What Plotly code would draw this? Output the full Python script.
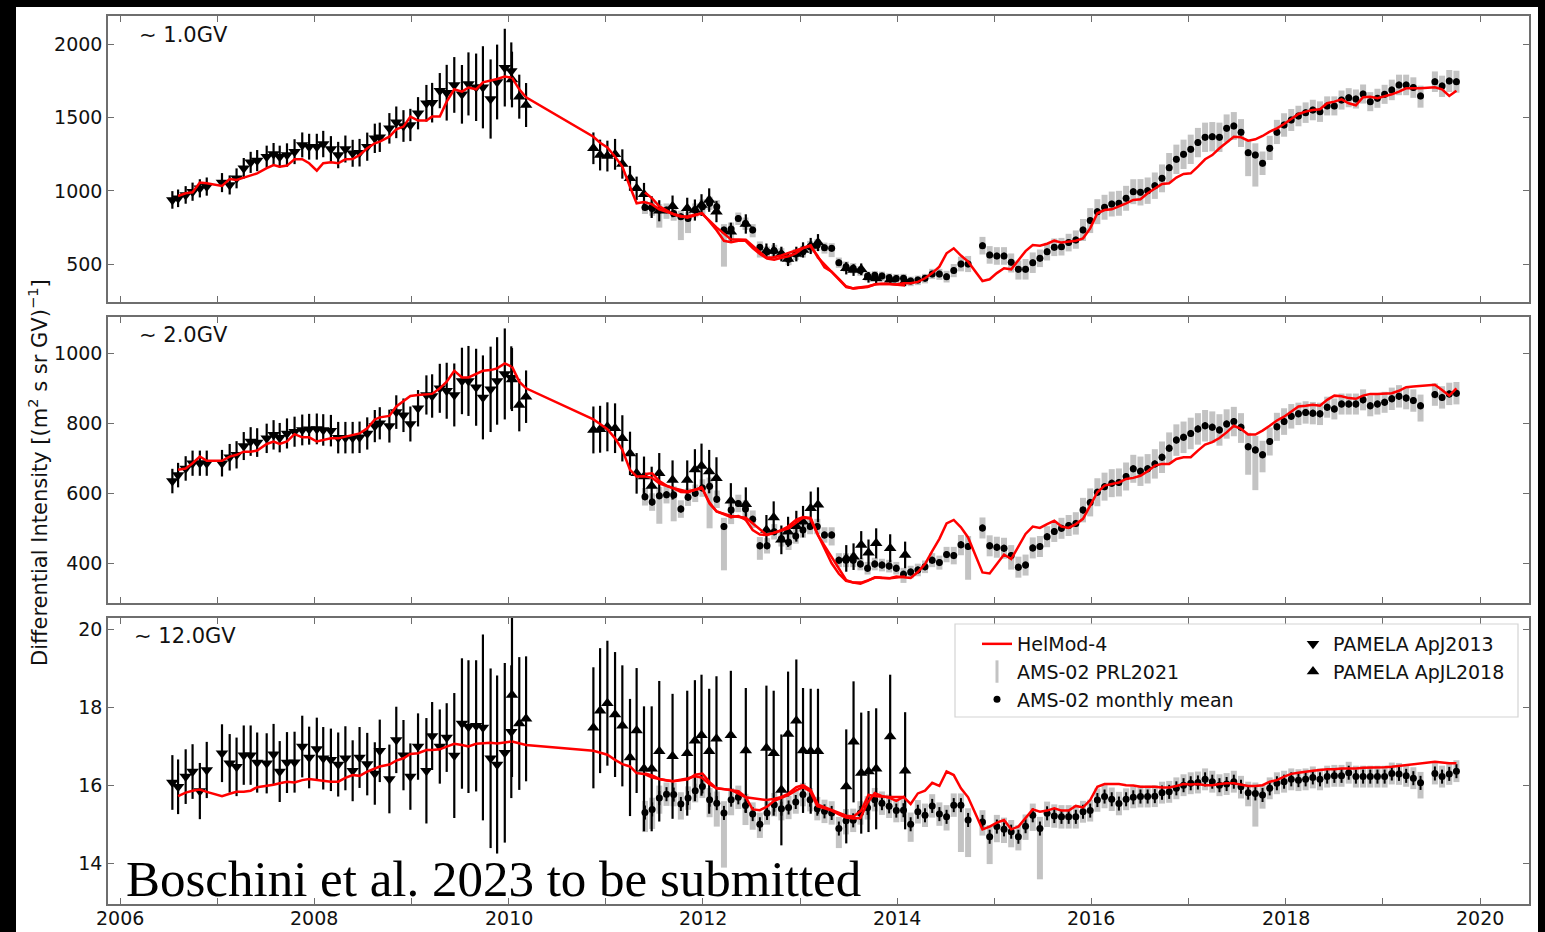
import pandas as pd
import plotly.graph_objects as go
from plotly.subplots import make_subplots

NaN = float('nan')

# ---------------- time grids ----------------
# PAMELA ApJ2013 (Carrington rotations), decimal year
pam13_t = [2006.539, 2006.598, 2006.676, 2006.747, 2006.822, 2006.893, 2007.050, 2007.129, 2007.200, 2007.274,
           2007.345, 2007.412, 2007.510, 2007.581, 2007.644, 2007.719, 2007.797, 2007.876, 2007.947, 2008.026,
           2008.092, 2008.171, 2008.246, 2008.320, 2008.395, 2008.466, 2008.545, 2008.623, 2008.674, 2008.773,
           2008.844, 2008.918, 2008.989, 2009.068, 2009.154, 2009.213, 2009.292, 2009.363, 2009.441, 2009.520,
           2009.587, 2009.666, 2009.736, 2009.815, 2009.882, 2009.961, 2010.028]
# PAMELA ApJL2018 (Carrington rotations), decimal year
pam18_t = [2010.035, 2010.110, 2010.180, 2010.873, 2010.942, 2011.017, 2011.096, 2011.171, 2011.250, 2011.318,
           2011.394, 2011.473, 2011.551, 2011.688, 2011.839, 2011.918, 2011.986, 2012.065, 2012.140, 2012.288,
           2012.442, 2012.654, 2012.729, 2012.808, 2012.877, 2012.962, 2013.031, 2013.110, 2013.185, 2013.476,
           2013.551, 2013.630, 2013.705, 2013.784, 2013.928, 2014.082]
# AMS-02 monthly means: Bartels rotations 2426 ... 2539 (BR 2426 starts 2011-05-15, 27 days each)
ams_bartels = list(range(2426, 2540))
_br0 = pd.Timestamp('2011-05-15')
_y0 = pd.Timestamp('2011-01-01')
ams_t = [2011.0 + ((_br0 + pd.Timedelta(days=27 * (b - 2426) + 13.5)) - _y0).total_seconds() / 86400 / 365.25
         for b in ams_bartels]

# ---------------- ~1.0 GV ----------------
pam13_p1 = [939, 950, 973, 995, 1018, 1030, 1057, 1041, 1086, 1155, 1195, 1207, 1234, 1252, 1234, 1245, 1268, 1314,
            1302, 1302, 1320, 1286, 1245, 1286, 1257, 1261, 1302, 1359, 1366, 1427, 1468, 1443, 1450, 1530, 1598,
            1602, 1684, 1670, 1723, 1659, 1730, 1707, 1707, 1627, 1743, 1841, 1818]
pam13_e1 = [60, 60, 60, 62, 62, 62, 65, 65, 68, 70, 72, 72, 75, 75, 75, 80, 85, 85, 88, 88, 90, 88, 90, 92,
            92, 94, 96, 100, 100, 104, 108, 108, 110, 110, 125, 135, 120, 190, 190, 200, 215, 230, 280, 270, 255,
            265, 195]
pam18_p1 = [1760, 1643, 1586, 1291, 1245, 1238, 1250, 1184, 1086, 1018, 977, 890, 865, 895, 882, 870, 904, 938,
            859, 722, 775, 590, 593, 570, 536, 570, 598, 625, 648, 473, 461, 466, 411, 404, 395, 385]
pam18_e1 = [190, 150, 150, 108, 105, 105, 105, 100, 85, 80, 78, 74, 72, 74, 72, 72, 74, 80, 72, 62, 66, 52, 52,
            50, 48, 50, 52, 55, 58, 42, 40, 40, 36, 35, 35, 34]
ams_p1 = [888, 881, 870, 870, 847, 825, 813, 870, 893, 916, 893, 734, 740, 813, 779, 734, 616, 586, 593, 570,
          534, 570, 586, 620, 632, 613, 609, 511, 484, 473, 457, 420, 425, 420, 408, 404,
          405, 386, 393, 405, 434, 434, 416, 457, 502, 502, NaN,
          627, 564, 557, 557, 514, 466, 466, 511, 541, 586, 616, 620, 648, 666,
          734, 798, 859, 889, 911, 916, 950, 995, 991, 1002, 1036, 1086, 1159, 1216, 1250, 1284, 1330, 1366, 1370,
          1366, 1427, 1443, 1400,
          1261, 1245, 1189, 1291, 1400, 1450, 1484,
          1511, 1534, 1552, 1541, 1580, 1580, 1620, 1636, 1627, 1661, 1609, 1632, 1659, 1689, 1723, 1723, 1705,
          1648, NaN, 1745, 1716, 1750, 1745]
ams_daily_dhi1 = [45, 45, 40, 45, 45, 40, 45, 45, 50, 45, 45,
                  40, 45, 40, 40, 40, 40, 35, 40, 40, 35, 35, 40, 40, 40, 35, 35,
                  35, 35, 35, 30, 30, 30, 30, 30, 30, 30, 30, 30, 30, 35, 35, 40, 45, 50, 55,
                  0,
                  60, 60, 60, 60, 60, 60, 70, 70, 60, 60, 60, 60, 60, 65,
                  75, 85, 85, 85, 85, 85, 85, 85, 90, 90, 90, 95, 100, 100, 100, 100, 100, 100, 100, 100, 95, 95, 90,
                  80, 80, 80, 85, 85, 80, 75,
                  70, 70, 70, 70, 65, 65, 65, 65, 65, 65, 65, 65, 65, 70, 70, 70, 70, 70, 0, 70, 70, 75, 75]
ams_daily_dlo1 = [45, 50, 120, 60, 50, 160, 100, 50, 50, 45, 50,
                  250, 90, 45, 45, 50, 70, 40, 40, 40, 40, 40, 40, 40, 40, 40, 60,
                  35, 35, 35, 35, 35, 35, 35, 35, 35, 35, 35, 35, 35, 35, 40, 40, 45, 50, 55,
                  0,
                  60, 60, 60, 60, 70, 70, 70, 70, 60, 60, 60, 60, 60, 60,
                  75, 85, 85, 85, 85, 85, 85, 85, 90, 90, 90, 95, 100, 100, 100, 100, 100, 100, 100, 100, 95, 95, 100,
                  160, 215, 80, 80, 80, 80, 75,
                  70, 70, 70, 70, 65, 65, 65, 65, 65, 65, 65, 65, 65, 70, 70, 70, 70, 80, 0, 70, 75, 75, 75]
helmod_pam13_1 = [NaN, 966, 984, 991, 1057, 1052, 1034, 1082, 1075, 1091, 1105, 1120, 1155, 1177, 1166, 1173,
                  1216, 1216, 1189, 1139, 1189, 1195, 1189, 1216, 1218, 1245, 1291, 1325, 1336, 1370, 1420, 1439,
                  1507, 1480, 1480, 1507, 1507, 1609, 1693, 1677, 1705, 1693, 1741, 1752, 1764, 1780, 1773]
helmod_pam18_1 = [1773, 1693, 1639, 1370, 1329, 1297, 1234, 1166, 1029, 916, 925, 910, 875, 845, 818, 836, 848,
                  800, 752, 670, 668, 545, 548, 560, 575, 598, 610, 630, 545, 345, 336, 343, 350, 365, 366, 355]
helmod_ams_1 = [990, 950, 895, 870, 840, 825, 828, 838, 848, 790, 730, 660, 650, 660, 660, 610, 570, 540, 532,
                545, 555, 575, 610, 625, 560, 480, 450, 400, 350, 336, 340, 345, 362, 368, 366, 362,
                370, 371, 380, 405, 440, 484, 575, 609, 560, 518, NaN,
                386, 398, 440, 473, 466, 530, 590, 632, 627, 640, 661, 648, 655, 661,
                677, 745, 848, 870, 875, 893, 916, 939, 943, 984, 1018, 1048, 1052, 1091, 1116, 1120, 1166, 1216,
                1245, 1291, 1330, 1370, 1366,
                1343, 1352, 1375, 1405, 1427, 1457, 1489,
                1525, 1541, 1552, 1557, 1598, 1609, 1625, 1598, 1584, 1639, 1643, 1632, 1643, 1659, 1677, 1700,
                1700, 1700, NaN, 1707, 1693, 1648, 1684]
ams_err1 = 22

# ---------------- ~2.0 GV ----------------
pam13_p2 = [635, 652, 671, 686, 686, 686, 686, 703, 710, 735, 748, 745, 757, 767, 759, 771, 776, 781, 783, 784,
            781, 779, 759, 759, 759, 760, 771, 792, 800, 792, 832, 823, 798, 843, 881, 878, 900, 893, 881, 921,
            921, 903, 874, 897, 921, 941, 930]
pam13_e2 = [35, 35, 35, 36, 36, 36, 38, 38, 39, 40, 41, 41, 42, 42, 42, 43, 43, 44, 44, 44, 45, 45, 45, 45,
            45, 45, 46, 46, 46, 47, 48, 48, 50, 52, 56, 62, 70, 80, 90, 95, 100, 110, 120, 122, 125, 130, 90]
pam18_p2 = [925, 852, 876, 781, 783, 790, 786, 757, 714, 657, 648, 621, 657, 638, 638, 668, 678, 662, 643, 579,
            569, 495, 531, 467, 490, 506, 519, 557, 567, 414, 419, 452, 430, 457, 443, 424]
pam18_e2 = [90, 75, 75, 67, 67, 70, 71, 66, 62, 58, 57, 55, 58, 56, 56, 58, 64, 62, 60, 50, 48, 43, 46, 41,
            43, 44, 45, 48, 50, 38, 38, 40, 38, 43, 40, 38]
ams_p2 = [590, 575, 593, 596, 595, 555, 589, 600, 615, 620, 583, 505, 552, 571, 555, 526, 450, 450, 490, 470,
          460, 478, 495, 505, 505, 481, 481, 409, 409, 409, 398, 386, 398, 395, 392, 386, 369, 375, 381, 390,
          409, 402, 425,
          422, 453, 448, NaN,
          501, 450, 446, 443, 422, 389, 395, 444, 448, 476, 491, 500, 508, 514,
          552, 574, 603, 619, 629, 631, 648, 670, 663, 670, 684, 703, 729, 752, 760, 771, 784, 793, 789, 781,
          798, 805, 789,
          733, 724, 710, 748, 790, 805, 820,
          827, 831, 829, 827, 846, 841, 855, 855, 855, 867, 850, 855, 860, 870, 877, 872, 865, 850, NaN,
          882, 874, 884, 886]
ams_daily_dhi2 = [25, 25, 25, 25, 25, 25, 25, 25, 25, 25, 25,
                  25, 25, 25, 25, 25, 25, 22, 22, 22, 22, 22, 22, 22, 22, 22, 22,
                  20, 20, 20, 18, 18, 18, 18, 18, 18, 18, 18, 18, 18, 20, 20, 22, 25, 28, 30,
                  0,
                  30, 30, 30, 30, 30, 30, 30, 30, 30, 30, 30, 30, 30, 32,
                  35, 40, 40, 40, 40, 40, 40, 40, 42, 42, 42, 45, 45, 45, 45, 45, 45, 45, 45, 45, 42, 42, 40,
                  40, 40, 40, 40, 40, 38, 35,
                  32, 32, 32, 32, 30, 30, 30, 30, 30, 30, 30, 30, 30, 32, 32, 32, 32, 32, 0, 32, 32, 32, 32]
ams_daily_dlo2 = [25, 25, 80, 25, 75, 25, 25, 25, 25, 120, 25,
                  125, 40, 25, 25, 25, 40, 22, 22, 22, 22, 22, 22, 22, 22, 22, 30,
                  20, 20, 20, 18, 18, 18, 18, 18, 18, 25, 18, 18, 18, 20, 20, 22, 25, 30, 95,
                  0,
                  30, 30, 30, 30, 40, 30, 30, 30, 30, 30, 30, 30, 30, 32,
                  35, 40, 40, 40, 40, 40, 40, 40, 42, 42, 42, 45, 45, 45, 45, 45, 45, 45, 45, 45, 42, 42, 45,
                  80, 115, 50, 40, 40, 38, 35,
                  32, 32, 32, 32, 30, 30, 30, 30, 30, 30, 30, 30, 30, 32, 32, 32, 32, 45, 0, 32, 32, 32, 32]
helmod_pam13_2 = [NaN, 667, 671, 686, 705, 693, 693, 705, 710, 719, 719, 722, 741, 748, 741, 748, 769, 760, 760,
                  748, 752, 757, 757, 762, 767, 771, 786, 811, 817, 821, 848, 862, 878, 881, 883, 884, 900, 919,
                  950, 931, 931, 941, 950, 952, 957, 971, 962]
helmod_pam18_2 = [962, 919, 900, 811, 798, 783, 757, 724, 667, 648, 649, 645, 628, 615, 605, 610, 618, 575, 548,
                  535, 530, 482, 487, 495, 505, 525, 532, 530, 480, 352, 345, 345, 352, 360, 357, 362]
helmod_ams_2 = [655, 657, 635, 622, 614, 604, 603, 610, 614, 570, 548, 540, 532, 535, 525, 495, 482, 481, 488,
                494, 500, 515, 530, 528, 485, 440, 400, 370, 350, 345, 342, 350, 360, 358, 357, 362, 361, 358,
                375, 398, 435, 470, 514, 524, 503, 474, NaN,
                374, 371, 398, 425, 412, 446, 484, 505, 501, 512, 522, 505, 501, 512,
                527, 565, 603, 622, 627, 631, 641, 644, 650, 663, 679, 684, 684, 698, 703, 703, 722, 739, 746, 758,
                774, 793, 784,
                768, 768, 779, 793, 808, 819, 833,
                848, 850, 853, 850, 867, 879, 877, 872, 870, 879, 884, 884, 884, 886, 893, 903, 905, 906, NaN,
                910, 895, 879, 900]
ams_err2 = 10

# ---------------- ~12.0 GV ----------------
pam13_p3 = [16.07, 15.96, 16.22, 16.35, 15.85, 16.39, 16.82, 16.56, 16.47, 16.77, 16.77, 16.58, 16.56, 16.79,
            16.35, 16.58, 16.59, 16.99, 16.71, 16.93, 16.69, 16.65, 16.53, 16.69, 16.37, 16.71, 16.54, 16.30,
            16.88, 16.16, 17.16, 16.77, 16.22, 16.99, 16.37, 17.26, 16.99, 17.22, 16.76, 17.58, 17.50, 17.52,
            17.48, 16.69, 16.53, 16.83, 17.37]
pam13_e3 = [0.70, 0.70, 0.70, 0.70, 0.72, 0.72, 0.74, 0.75, 0.75, 0.76, 0.76, 0.77, 0.77, 0.78, 0.78, 0.78, 0.78,
            0.79, 0.79, 0.80, 0.80, 0.80, 0.82, 0.82, 0.78, 0.78, 0.80, 0.80, 0.80, 0.88, 0.85, 0.90, 0.85, 0.85,
            1.35, 0.87, 0.95, 0.88, 1.60, 1.67, 1.70, 1.68, 2.38, 2.30, 2.28, 2.30, 1.70]
pam18_p3 = [18.31, 17.58, 17.70, 17.47, 17.91, 18.10, 17.81, 17.52, 16.71, 17.40, 16.42, 16.42, 16.87, 16.74,
            16.82, 17.14, 17.28, 16.87, 17.19, 17.28, 16.89, 16.95, 16.82, 15.88, 17.31, 17.65, 16.89, 16.87,
            16.87, 15.97, 17.11, 16.31, 16.35, 16.42, 17.25, 16.37]
pam18_e3 = [2.10, 1.70, 1.60, 1.55, 1.60, 1.60, 1.60, 1.55, 1.50, 1.60, 1.60, 1.60, 1.80, 1.60, 1.60, 1.55, 1.55,
            1.60, 1.60, 1.65, 1.60, 1.60, 1.60, 1.42, 1.60, 1.57, 1.60, 1.60, 1.60, 1.46, 1.55, 1.55, 1.55, 1.55,
            1.58, 1.50]
ams_p3 = [15.30, 15.38, 15.67, 15.77, 15.76, 15.52, 15.67, 15.86, 15.97, 15.63, 15.54, 15.29, 15.63, 15.69,
          15.48, 15.26, 15.00, 15.29, 15.50, 15.40, 15.43, 15.57, 15.76, 15.63, 15.40, 15.33, 15.29, 14.89,
          15.09, 15.10, 15.29, 15.42, 15.63, 15.54, 15.46, 15.35,
          15.36, 15.00, 15.32, 15.23, 15.47, 15.26, 15.19, 15.49, 15.49, 15.11, NaN,
          15.06, 14.68, 14.94, 14.87, 14.81, 14.68, 14.95, 15.23, 14.89, 15.28, 15.21, 15.19, 15.19, 15.19,
          15.32, 15.35, 15.62, 15.71, 15.64, 15.53, 15.64, 15.69, 15.71, 15.71, 15.72, 15.81, 15.83, 15.92,
          16.00, 16.05, 16.07, 16.15, 16.09, 16.00, 16.03, 16.09, 15.96,
          15.81, 15.79, 15.75, 15.92, 16.05, 16.09, 16.15,
          16.13, 16.15, 16.20, 16.15, 16.22, 16.24, 16.24, 16.32, 16.22, 16.22, 16.22, 16.22, 16.22, 16.30,
          16.29, 16.24, 16.18, 16.06, NaN, 16.30, 16.22, 16.29, 16.36]
ams_daily_dhi3 = [0.30, 0.30, 0.32, 0.30, 0.30, 0.30, 0.30, 0.32, 0.30, 0.30, 0.30,
                  0.30, 0.30, 0.30, 0.30, 0.30, 0.30, 0.30, 0.30, 0.30, 0.30, 0.30, 0.30, 0.30, 0.30, 0.30, 0.30,
                  0.30, 0.30, 0.30, 0.30, 0.30, 0.30, 0.30, 0.30, 0.30, 0.30, 0.30, 0.30, 0.30, 0.30, 0.30, 0.30,
                  0.30, 0.30, 0.30,
                  0.0,
                  0.30, 0.30, 0.30, 0.30, 0.30, 0.30, 0.30, 0.30, 0.30, 0.30, 0.30, 0.30, 0.30, 0.30,
                  0.28, 0.28, 0.30, 0.30, 0.30, 0.30, 0.28, 0.28, 0.28, 0.28, 0.28, 0.28, 0.28, 0.28, 0.28, 0.28,
                  0.28, 0.28, 0.28, 0.28, 0.28, 0.28, 0.28,
                  0.28, 0.28, 0.28, 0.28, 0.28, 0.28, 0.28,
                  0.28, 0.28, 0.28, 0.28, 0.28, 0.28, 0.28, 0.28, 0.28, 0.28, 0.28, 0.28, 0.28, 0.28, 0.28, 0.28,
                  0.28, 0.28, 0.0, 0.28, 0.28, 0.28, 0.28]
ams_daily_dlo3 = [0.50, 0.50, 0.40, 0.30, 0.30, 0.40, 0.30, 0.30, 0.30, 0.45, 0.60,
                  1.40, 0.40, 0.30, 0.50, 0.40, 0.35, 0.30, 0.30, 0.30, 0.30, 0.30, 0.30, 0.30, 0.30, 0.30, 0.30,
                  0.50, 0.35, 0.30, 0.30, 0.30, 0.30, 0.30, 0.30, 0.30, 0.30, 0.45, 0.30, 0.30, 0.30, 0.30, 0.35,
                  0.30, 1.20, 0.95,
                  0.0,
                  0.35, 0.70, 0.40, 0.35, 0.40, 0.35, 0.35, 0.40, 1.30, 0.35, 0.30, 0.30, 0.30, 0.30,
                  0.28, 0.28, 0.30, 0.30, 0.30, 0.30, 0.28, 0.28, 0.28, 0.28, 0.28, 0.28, 0.28, 0.28, 0.28, 0.28,
                  0.28, 0.28, 0.28, 0.28, 0.28, 0.28, 0.30,
                  0.35, 0.85, 0.35, 0.28, 0.28, 0.28, 0.28,
                  0.28, 0.28, 0.28, 0.28, 0.28, 0.28, 0.28, 0.28, 0.28, 0.28, 0.28, 0.28, 0.28, 0.28, 0.28, 0.28,
                  0.28, 0.40, 0.0, 0.28, 0.28, 0.28, 0.28]
helmod_pam13_3 = [NaN, 15.72, 15.81, 15.86, 15.89, 15.83, 15.72, 15.78, 15.83, 15.83, 15.86, 15.95, 15.98, 16.01,
                  16.05, 16.09, 16.07, 16.13, 16.16, 16.13, 16.11, 16.09, 16.09, 16.19, 16.26, 16.24, 16.35, 16.42,
                  16.48, 16.53, 16.63, 16.69, 16.80, 16.82, 16.90, 16.90, 16.92, 16.99, 17.06, 17.03, 16.99, 17.06,
                  17.07, 17.09, 17.07, 17.09, 17.12]
helmod_pam18_3 = [17.12, 17.07, 17.03, 16.88, 16.83, 16.78, 16.65, 16.54, 16.48, 16.31, 16.29, 16.20, 16.16,
                  16.10, 16.17, 16.23, 16.20, 16.03, 15.92, 15.88, 15.69, 15.62, 15.65, 15.70, 15.78, 15.95, 16.00,
                  15.88, 15.50, 15.22, 15.20, 15.35, 15.75, 15.72, 15.70, 15.70]
helmod_ams_3 = [16.30, 16.25, 16.16, 16.12, 16.10, 16.12, 16.15, 16.27, 16.30, 16.08, 15.92, 15.90, 15.88, 15.85,
                15.70, 15.38, 15.36, 15.45, 15.60, 15.68, 15.75, 15.86, 15.95, 15.85, 15.46, 15.41, 15.35, 15.25,
                15.17, 15.15, 15.16, 15.55, 15.80, 15.72, 15.68, 15.60, 15.70, 15.52, 15.79, 15.86, 16.06, 15.98,
                16.35, 16.26, 15.92, 15.69, NaN,
                14.87, 14.94, 15.04, 15.11, 14.87, 14.94, 15.15, 15.38, 15.32, 15.35, 15.41, 15.35, 15.35, 15.47,
                15.43, 15.62, 15.96, 16.03, 16.03, 16.03, 16.00, 15.99, 15.96, 15.96, 15.96, 15.94, 15.94, 15.98,
                16.03, 16.02, 16.03, 16.00, 16.00, 16.03, 16.05, 16.05, 16.02,
                15.98, 15.98, 16.00, 16.09, 16.13, 16.22, 16.29,
                16.32, 16.35, 16.37, 16.39, 16.41, 16.41, 16.43, 16.43, 16.43, 16.45, 16.45, 16.46, 16.46, 16.47,
                16.49, 16.51, 16.53, 16.56, NaN, 16.60, 16.58, 16.56, 16.56]
ams_err3 = 0.18

# ---------------- axes / labels ----------------
x_range = [2005.8765, 2020.504]
x_major_ticks = [2006, 2008, 2010, 2012, 2014, 2016, 2018, 2020]
x_major_labels = ['2006', '2008', '2010', '2012', '2014', '2016', '2018', '2020']
panel_labels = ['\u223c 1.0GV', '\u223c 2.0GV', '\u223c 12.0GV']
y_ranges = [[243, 2193], [286.6, 1103.7], [12.958, 20.282]]
y_tickvals = [[500, 1000, 1500, 2000], [400, 600, 800, 1000], [14, 16, 18, 20]]

panels = [
    dict(ams=ams_p1, err=ams_err1, dlo=ams_daily_dlo1, dhi=ams_daily_dhi1, hma=helmod_ams_1,
         p13=pam13_p1, e13=pam13_e1, h13=helmod_pam13_1, p18=pam18_p1, e18=pam18_e1, h18=helmod_pam18_1),
    dict(ams=ams_p2, err=ams_err2, dlo=ams_daily_dlo2, dhi=ams_daily_dhi2, hma=helmod_ams_2,
         p13=pam13_p2, e13=pam13_e2, h13=helmod_pam13_2, p18=pam18_p2, e18=pam18_e2, h18=helmod_pam18_2),
    dict(ams=ams_p3, err=ams_err3, dlo=ams_daily_dlo3, dhi=ams_daily_dhi3, hma=helmod_ams_3,
         p13=pam13_p3, e13=pam13_e3, h13=helmod_pam13_3, p18=pam18_p3, e18=pam18_e3, h18=helmod_pam18_3),
]

W, H = 1545, 932
ML, MR, MT, MB = 108, 16, 16, 28
PW, PH = W - ML - MR, H - MT - MB


def px_x(px):
    return (px - ML) / PW


def px_y(py):
    return (H - MB - py) / PH


GRAY = '#c3c3c3'
RED = '#ff0000'
FRAME = '#6e6e6e'
TXT = '#111111'

fig = make_subplots(rows=3, cols=1, shared_xaxes=True, vertical_spacing=15 / PH)

for i, p in enumerate(panels):
    r = i + 1
    # AMS-02 daily (PRL2021): spread of the daily values inside each rotation
    fig.add_trace(go.Scatter(
        x=ams_t, y=p['ams'], mode='markers', marker=dict(size=4, color=GRAY),
        error_y=dict(type='data', symmetric=False, array=p['dhi'], arrayminus=p['dlo'],
                     color=GRAY, thickness=6, width=0),
        showlegend=False, hoverinfo='skip'), row=r, col=1)
    # AMS-02 monthly mean
    fig.add_trace(go.Scatter(
        x=ams_t, y=p['ams'], mode='markers', marker=dict(size=7, color='black'),
        error_y=dict(type='constant', value=p['err'], color='black', thickness=2, width=0),
        showlegend=False), row=r, col=1)
    # PAMELA ApJ2013
    fig.add_trace(go.Scatter(
        x=pam13_t, y=p['p13'], mode='markers',
        marker=dict(symbol='triangle-down', size=11, color='black'),
        error_y=dict(type='data', array=p['e13'], color='black', thickness=2.2, width=0),
        showlegend=False), row=r, col=1)
    # PAMELA ApJL2018
    fig.add_trace(go.Scatter(
        x=pam18_t, y=p['p18'], mode='markers',
        marker=dict(symbol='triangle-up', size=11, color='black'),
        error_y=dict(type='data', array=p['e18'], color='black', thickness=2.2, width=0),
        showlegend=False), row=r, col=1)
    # HelMod-4 curves
    for xs, ys in ((pam13_t, p['h13']), (pam18_t, p['h18']), (ams_t, p['hma'])):
        fig.add_trace(go.Scatter(x=xs, y=ys, mode='lines', line=dict(color=RED, width=2.5),
                                 connectgaps=True, showlegend=False), row=r, col=1)

# legend entries
fig.add_trace(go.Scatter(x=[None], y=[None], mode='lines', line=dict(color=RED, width=2.5),
                         name='HelMod-4', legend='legend'), row=3, col=1)
fig.add_trace(go.Scatter(x=[None], y=[None], mode='markers',
                         marker=dict(symbol='line-ns-open', size=18, color=GRAY, line=dict(width=3, color=GRAY)),
                         name='AMS-02 PRL2021', legend='legend'), row=3, col=1)
fig.add_trace(go.Scatter(x=[None], y=[None], mode='markers', marker=dict(symbol='circle', size=7, color='black'),
                         name='AMS-02 monthly mean', legend='legend'), row=3, col=1)
fig.add_trace(go.Scatter(x=[None], y=[None], mode='markers',
                         marker=dict(symbol='triangle-down', size=11, color='black'),
                         name='PAMELA ApJ2013', legend='legend2'), row=3, col=1)
fig.add_trace(go.Scatter(x=[None], y=[None], mode='markers',
                         marker=dict(symbol='triangle-up', size=11, color='black'),
                         name='PAMELA ApJL2018', legend='legend2'), row=3, col=1)

axis_style = dict(showline=True, linecolor=FRAME, linewidth=1.5, mirror='ticks', ticks='inside',
                  ticklen=6, tickwidth=1.3, tickcolor=FRAME, showgrid=False, zeroline=False, automargin=False,
                  tickfont=dict(family='DejaVu Sans', size=19, color=TXT))
for i in range(3):
    r = i + 1
    fig.update_xaxes(range=x_range, tickmode='array', tickvals=x_major_ticks, showticklabels=False,
                     minor=dict(ticks='inside', dtick=1, tick0=2006, ticklen=6, tickwidth=1.3, tickcolor=FRAME,
                                showgrid=False),
                     row=r, col=1, **axis_style)
    fig.update_yaxes(range=y_ranges[i], tickmode='array', tickvals=y_tickvals[i], row=r, col=1, **axis_style)

annotations = []
# x tick labels of the bottom panel (placed close under the axis, as in the original)
for xv, xt in zip(x_major_ticks, x_major_labels):
    annotations.append(dict(x=xv, y=px_y(918), xref='x3', yref='paper', text=xt, showarrow=False,
                            xanchor='center', yanchor='middle',
                            font=dict(family='DejaVu Sans', size=19, color=TXT)))
label_pos = [(137, 35), (137, 335), (132, 636)]
for (lx, ly), txt in zip(label_pos, panel_labels):
    annotations.append(dict(x=px_x(lx), y=px_y(ly), xref='paper', yref='paper', text=txt, showarrow=False,
                            xanchor='left', yanchor='middle',
                            font=dict(family='DejaVu Sans', size=21, color=TXT)))
annotations.append(dict(x=px_x(38), y=px_y(473), xref='paper', yref='paper', textangle=-90, showarrow=False,
                        text='Differential Intensity [(m<sup>2</sup> s sr GV)<sup>\u22121</sup>]',
                        xanchor='center', yanchor='middle',
                        font=dict(family='DejaVu Sans', size=21, color=TXT)))
annotations.append(dict(x=px_x(124), y=px_y(879), xref='paper', yref='paper', showarrow=False,
                        text='Boschini et al. 2023 to be submitted', xanchor='left', yanchor='middle',
                        font=dict(family='Liberation Serif', size=51, color='black')))

shapes = [
    # legend frame
    dict(type='rect', xref='paper', yref='paper', x0=px_x(955), x1=px_x(1518), y0=px_y(717), y1=px_y(624),
         line=dict(color='#d4d4d4', width=1.2), fillcolor='rgba(255,255,255,0.85)', layer='above'),
    # black image border (left, top, right)
    dict(type='rect', xref='paper', yref='paper', x0=px_x(0), x1=px_x(16), y0=px_y(H), y1=px_y(0),
         line=dict(width=0), fillcolor='black', layer='above'),
    dict(type='rect', xref='paper', yref='paper', x0=px_x(0), x1=px_x(W), y0=px_y(7), y1=px_y(0),
         line=dict(width=0), fillcolor='black', layer='above'),
    dict(type='rect', xref='paper', yref='paper', x0=px_x(1538), x1=px_x(W), y0=px_y(H), y1=px_y(0),
         line=dict(width=0), fillcolor='black', layer='above'),
]

fig.update_layout(
    width=W, height=H, autosize=False, margin=dict(l=ML, r=MR, t=MT, b=MB, pad=0),
    paper_bgcolor='white', plot_bgcolor='white',
    font=dict(family='DejaVu Sans', size=19, color=TXT),
    showlegend=True,
    legend=dict(x=px_x(977), y=px_y(625), xanchor='left', yanchor='top', bgcolor='rgba(0,0,0,0)',
                borderwidth=0, font=dict(family='DejaVu Sans', size=19, color=TXT)),
    legend2=dict(x=px_x(1293), y=px_y(625), xanchor='left', yanchor='top', bgcolor='rgba(0,0,0,0)',
                 borderwidth=0, font=dict(family='DejaVu Sans', size=19, color=TXT)),
    annotations=annotations, shapes=shapes,
)

fig.write_html('out.html')
